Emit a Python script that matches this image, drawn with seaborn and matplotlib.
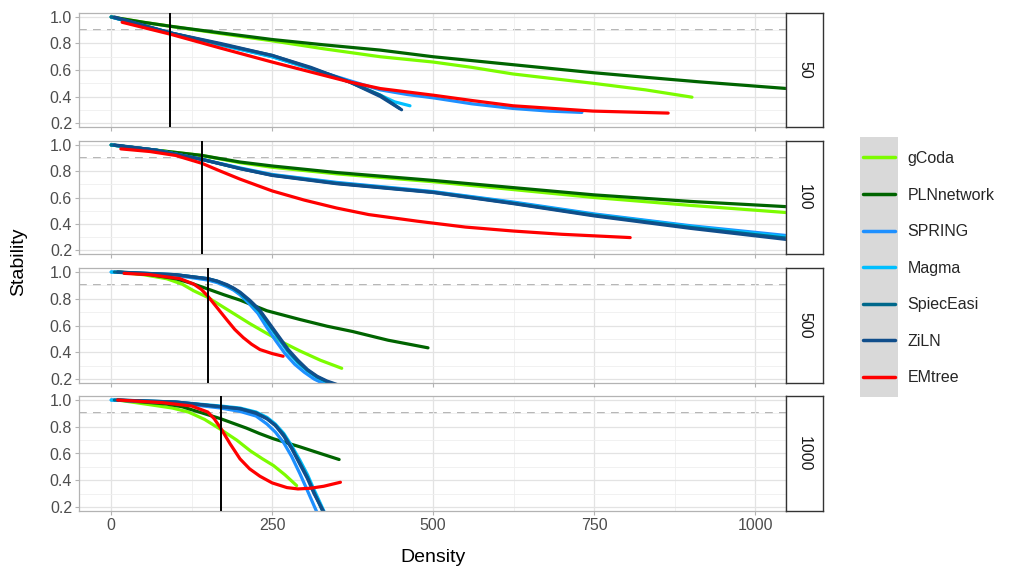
import matplotlib
matplotlib.use("Agg")
import matplotlib.pyplot as plt
import matplotlib.patches as mpatches
import seaborn as sns
import pandas as pd

# facet rows (number of samples) and threshold density per facet
facets = ["50", "100", "500", "1000"]
vline_x = [92, 141, 150, 170]
stab_threshold = 0.9

methods = ["gCoda", "PLNnetwork", "SPRING", "Magma", "SpiecEasi", "ZiLN", "EMtree"]
colors = ["#7CFC00", "#006400", "#1E90FF", "#00BFFF", "#00688B", "#104E8B", "#FF0000"]

# ---- facet 50 ----
gcoda_50 = ([0, 50, 92, 170, 250, 330, 418, 500, 560, 624, 748, 830, 902],
            [1.0, 0.96, 0.93, 0.875, 0.82, 0.76, 0.70, 0.66, 0.62, 0.57, 0.50, 0.45, 0.395])
pln_50 = ([0, 50, 92, 170, 250, 330, 418, 500, 624, 748, 830, 915, 1050],
          [1.0, 0.96, 0.93, 0.88, 0.83, 0.79, 0.75, 0.70, 0.64, 0.58, 0.545, 0.51, 0.46])
spring_50 = ([0, 92, 170, 250, 310, 370, 418, 460, 500, 560, 624, 680, 731],
             [1.0, 0.88, 0.79, 0.70, 0.61, 0.52, 0.45, 0.415, 0.39, 0.345, 0.31, 0.29, 0.28])
magma_50 = ([0, 92, 170, 250, 310, 370, 418, 440, 464],
            [1.0, 0.88, 0.79, 0.70, 0.61, 0.51, 0.41, 0.36, 0.33])
spieceasi_50 = ([0, 92, 170, 250, 310, 370, 418, 448],
                [1.0, 0.88, 0.795, 0.71, 0.615, 0.51, 0.41, 0.31])
ziln_50 = ([5, 92, 170, 250, 310, 370, 418, 451],
           [1.0, 0.88, 0.80, 0.71, 0.62, 0.51, 0.40, 0.30])
emtree_50 = ([17, 92, 170, 250, 310, 370, 418, 500, 560, 624, 748, 865],
             [0.96, 0.87, 0.765, 0.66, 0.585, 0.51, 0.46, 0.41, 0.37, 0.33, 0.29, 0.275])

# ---- facet 100 ----
gcoda_100 = ([0, 70, 141, 200, 250, 350, 500, 625, 750, 900, 1050],
             [1.0, 0.96, 0.92, 0.865, 0.83, 0.78, 0.72, 0.66, 0.60, 0.54, 0.485])
pln_100 = ([0, 70, 141, 200, 250, 350, 500, 625, 750, 900, 1050],
           [1.0, 0.96, 0.92, 0.87, 0.84, 0.79, 0.73, 0.675, 0.62, 0.57, 0.53])
spring_100 = ([0, 70, 141, 200, 250, 350, 500, 625, 750, 900, 1050],
              [1.0, 0.96, 0.89, 0.825, 0.775, 0.715, 0.645, 0.565, 0.475, 0.385, 0.31])
magma_100 = ([0, 70, 141, 200, 250, 350, 500, 625, 750, 900, 1050],
             [1.0, 0.96, 0.89, 0.822, 0.772, 0.71, 0.642, 0.56, 0.47, 0.38, 0.30])
spieceasi_100 = ([0, 70, 141, 200, 250, 350, 500, 625, 750, 900, 1050],
                 [1.0, 0.96, 0.89, 0.82, 0.77, 0.708, 0.64, 0.556, 0.465, 0.372, 0.29])
ziln_100 = ([5, 70, 141, 200, 250, 350, 500, 625, 750, 900, 1050],
            [1.0, 0.96, 0.89, 0.82, 0.768, 0.705, 0.638, 0.553, 0.46, 0.365, 0.28])
emtree_100 = ([15, 60, 100, 141, 170, 200, 250, 300, 350, 400, 475, 550, 624, 700, 806],
              [0.97, 0.95, 0.92, 0.86, 0.80, 0.74, 0.65, 0.58, 0.52, 0.47, 0.42, 0.375, 0.345, 0.32, 0.295])

# ---- facet 500 ----
gcoda_500 = ([10, 50, 86, 110, 128, 150, 170, 190, 215, 242, 268, 293, 325, 358],
             [1.0, 0.98, 0.95, 0.91, 0.86, 0.81, 0.75, 0.69, 0.615, 0.54, 0.47, 0.41, 0.34, 0.28])
pln_500 = ([10, 60, 100, 125, 150, 175, 200, 242, 293, 335, 375, 430, 492],
           [1.0, 0.98, 0.95, 0.915, 0.873, 0.83, 0.79, 0.71, 0.645, 0.595, 0.555, 0.49, 0.433])
spring_500 = ([0, 100, 150, 165, 180, 190, 200, 214, 228, 241, 255, 270, 285, 300, 315, 330, 345, 365],
              [1.0, 0.975, 0.94, 0.92, 0.89, 0.865, 0.83, 0.765, 0.69, 0.59, 0.49, 0.39, 0.31, 0.25, 0.20, 0.165, 0.14, 0.11])
magma_500 = ([0, 100, 150, 165, 180, 190, 200, 215, 230, 245, 260, 275, 290, 305, 320, 335, 350, 370],
             [1.0, 0.98, 0.95, 0.93, 0.90, 0.875, 0.84, 0.775, 0.70, 0.60, 0.50, 0.40, 0.32, 0.26, 0.21, 0.175, 0.15, 0.12])
spieceasi_500 = ([5, 100, 150, 165, 180, 190, 200, 215, 230, 245, 260, 275, 290, 305, 320, 335, 350, 370],
                 [1.0, 0.98, 0.95, 0.93, 0.90, 0.877, 0.845, 0.78, 0.71, 0.61, 0.51, 0.41, 0.33, 0.265, 0.215, 0.18, 0.155, 0.12])
ziln_500 = ([10, 100, 150, 165, 180, 190, 200, 215, 230, 245, 260, 275, 290, 305, 320, 335, 350, 370],
            [1.0, 0.98, 0.95, 0.932, 0.905, 0.88, 0.85, 0.79, 0.72, 0.62, 0.52, 0.42, 0.34, 0.27, 0.22, 0.185, 0.16, 0.12])
emtree_500 = ([20, 60, 107, 128, 140, 150, 165, 180, 192, 205, 218, 231, 250, 267],
              [0.99, 0.98, 0.95, 0.91, 0.87, 0.82, 0.73, 0.64, 0.57, 0.51, 0.46, 0.42, 0.39, 0.37])

# ---- facet 1000 ----
gcoda_1000 = ([10, 60, 95, 120, 145, 170, 195, 216, 235, 252, 270, 288],
              [1.0, 0.965, 0.94, 0.91, 0.855, 0.78, 0.70, 0.62, 0.56, 0.51, 0.44, 0.36])
pln_1000 = ([10, 50, 86, 110, 130, 150, 170, 190, 210, 230, 252, 293, 325, 354],
            [1.0, 0.985, 0.97, 0.95, 0.92, 0.89, 0.86, 0.825, 0.79, 0.75, 0.71, 0.65, 0.60, 0.555])
spring_1000 = ([0, 100, 170, 200, 225, 242, 255, 268, 280, 293, 305, 315, 325],
               [1.0, 0.98, 0.94, 0.915, 0.88, 0.82, 0.76, 0.68, 0.58, 0.45, 0.32, 0.21, 0.10])
magma_1000 = ([0, 100, 170, 200, 225, 242, 255, 268, 280, 293, 305, 315, 335],
              [1.0, 0.985, 0.955, 0.94, 0.91, 0.87, 0.82, 0.75, 0.66, 0.55, 0.44, 0.33, 0.12])
spieceasi_1000 = ([5, 100, 170, 200, 225, 242, 255, 268, 280, 293, 305, 315, 333],
                  [1.0, 0.985, 0.95, 0.935, 0.905, 0.86, 0.81, 0.74, 0.645, 0.53, 0.42, 0.31, 0.12])
ziln_1000 = ([10, 100, 170, 200, 225, 242, 255, 268, 280, 293, 305, 315, 335],
             [1.0, 0.985, 0.95, 0.935, 0.90, 0.86, 0.81, 0.73, 0.64, 0.52, 0.41, 0.30, 0.12])
emtree_1000 = ([10, 80, 125, 150, 160, 170, 185, 200, 215, 231, 250, 273, 290, 309, 330, 356],
               [1.0, 0.98, 0.955, 0.91, 0.86, 0.79, 0.67, 0.56, 0.485, 0.43, 0.38, 0.345, 0.335, 0.34, 0.355, 0.385])

series = {
    "50": [gcoda_50, pln_50, spring_50, magma_50, spieceasi_50, ziln_50, emtree_50],
    "100": [gcoda_100, pln_100, spring_100, magma_100, spieceasi_100, ziln_100, emtree_100],
    "500": [gcoda_500, pln_500, spring_500, magma_500, spieceasi_500, ziln_500, emtree_500],
    "1000": [gcoda_1000, pln_1000, spring_1000, magma_1000, spieceasi_1000, ziln_1000, emtree_1000],
}

rows = []
for facet, lst in series.items():
    for method, (xs, ys) in zip(methods, lst):
        for x, y in zip(xs, ys):
            rows.append({"facet": facet, "method": method, "Density": x, "Stability": y})
df = pd.DataFrame(rows)

sns.set_theme(style="white")
plt.rcParams["font.family"] = ["Liberation Sans", "DejaVu Sans"]

W, H = 1013, 568
fig = plt.figure(figsize=(W / 100, H / 100), dpi=100)

panel_px = [(13, 127), (141, 254), (268, 383), (396, 511)]
left_px, right_px, strip_right = 79, 786, 823
palette = dict(zip(methods, colors))

axes = []
for i, facet in enumerate(facets):
    top, bot = panel_px[i]
    ax = fig.add_axes([left_px / W, 1 - bot / H, (right_px - left_px) / W, (bot - top) / H])
    axes.append(ax)
    sub = df[df["facet"] == facet]
    sns.lineplot(data=sub, x="Density", y="Stability", hue="method", hue_order=methods,
                 palette=palette, linewidth=2.3, ax=ax, legend=(i == 0), estimator=None,
                 sort=False)
    ax.axhline(stab_threshold, color="#B5B5B5", lw=1.4, ls=(0, (4, 3.2)), zorder=0.5)
    ax.axvline(vline_x[i], color="black", lw=1.4, zorder=5)
    ax.set_xlim(-50, 1048)
    ax.set_ylim(0.17, 1.03)
    ax.set_xticks([0, 250, 500, 750, 1000])
    ax.set_xticks([125, 375, 625, 875], minor=True)
    ax.set_yticks([0.2, 0.4, 0.6, 0.8, 1.0])
    ax.set_yticks([0.3, 0.5, 0.7, 0.9], minor=True)
    ax.set_yticklabels(["0.2", "0.4", "0.6", "0.8", "1.0"])
    ax.grid(True, which="major", color="#E3E3E3", lw=0.9, zorder=0)
    ax.grid(True, which="minor", color="#EFEFEF", lw=0.6, zorder=0)
    ax.set_axisbelow(True)
    for sp in ax.spines.values():
        sp.set_color("#B3B3B3")
        sp.set_linewidth(0.9)
    ax.tick_params(axis="both", which="major", length=3, width=0.8, color="#B3B3B3",
                   labelsize=11.5, labelcolor="#4D4D4D", pad=2, left=True, bottom=True)
    ax.tick_params(which="minor", length=0)
    ax.set_ylabel("")
    ax.set_xlabel("")
    if i < 3:
        ax.set_xticklabels([])

    # facet strip on the right
    sax = fig.add_axes([right_px / W, 1 - bot / H, (strip_right - right_px) / W, (bot - top) / H])
    sax.set_xticks([])
    sax.set_yticks([])
    sax.set_facecolor("white")
    for sp in sax.spines.values():
        sp.set_color("#333333")
        sp.set_linewidth(1.0)
    sax.text(0.5, 0.5, facet, rotation=270, ha="center", va="center", fontsize=11.5,
             color="#1A1A1A", transform=sax.transAxes)

handles, labels = axes[0].get_legend_handles_labels()
axes[0].get_legend().remove()
for h in handles:
    h.set_linewidth(2.5)

fig.patches.append(mpatches.Rectangle((860 / W, 1 - 397 / H), 38 / W, 260 / H,
                                      transform=fig.transFigure, facecolor="#D9D9D9",
                                      edgecolor="none", zorder=0))
fig.legend(handles, labels, loc="upper left", bbox_to_anchor=(855 / W, 1 - 143 / H),
           frameon=False, fontsize=11.5, handlelength=2.0, handletextpad=0.8,
           labelspacing=1.35, borderaxespad=0, borderpad=0.5)

fig.text(19 / W, 1 - 262 / H, "Stability", rotation=90, ha="center", va="center",
         fontsize=14, color="black")
fig.text(433 / W, 1 - 558 / H, "Density", ha="center", va="center", fontsize=14,
         color="black")

fig.savefig("out.png", dpi=100)
